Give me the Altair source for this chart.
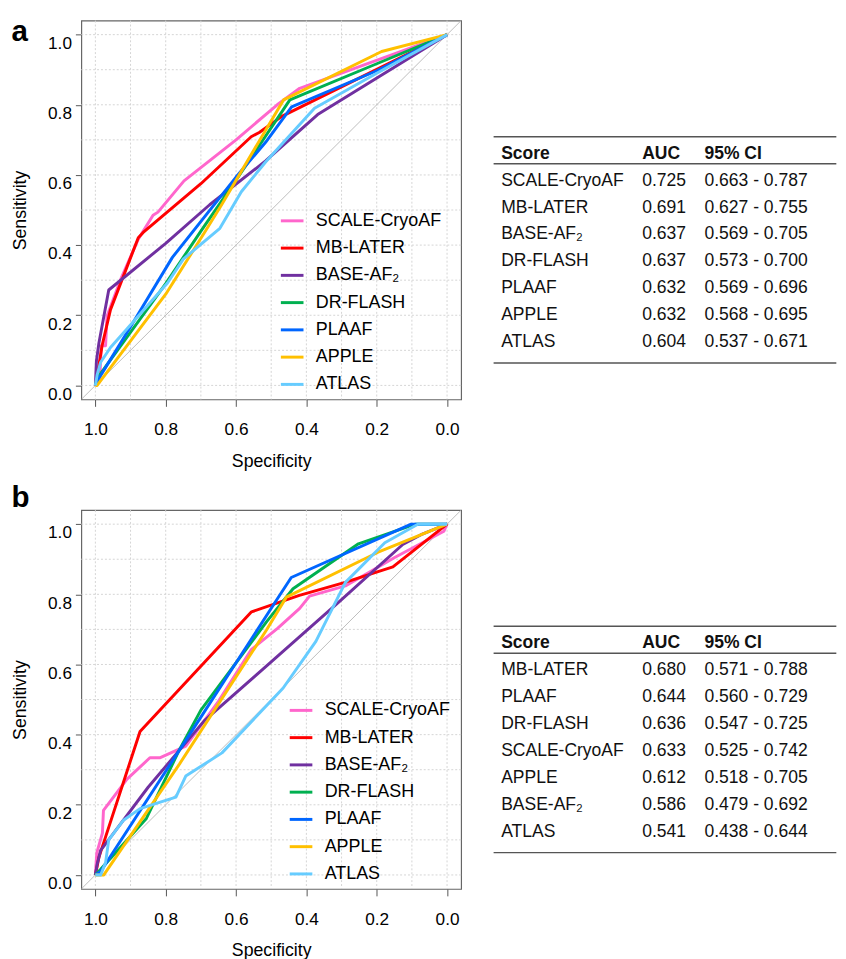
import altair as alt
import pandas as pd

FONT = "Liberation Sans"

SERIES = ["SCALE-CryoAF", "MB-LATER", "BASE-AF\u2082", "DR-FLASH", "PLAAF", "APPLE", "ATLAS"]
COLORS = ["#FF66CC", "#FF0000", "#7030A0", "#00B050", "#0066FF", "#FFC000", "#66CCFF"]

TICKS = [0.0, 0.2, 0.4, 0.6, 0.8, 1.0]
GRID = [0.0, 0.1, 0.2, 0.3, 0.4, 0.5, 0.6, 0.7, 0.8, 0.9, 1.0]
DIAG_SPEC = [1.04, -0.04]
DIAG_SENS = [-0.04, 1.04]

# ---------------- panel a ROC curves (specificity, sensitivity) ----------------
A_SCALE_SPEC = [1.0, 0.988, 0.983, 0.971, 0.967, 0.929, 0.878, 0.836, 0.822, 0.748, 0.60, 0.483, 0.419, 0.0]
A_SCALE_SENS = [0.0, 0.01, 0.113, 0.113, 0.197, 0.30, 0.417, 0.485, 0.494, 0.583, 0.70, 0.80, 0.847, 1.0]
A_MB_SPEC = [1.0, 0.997, 0.981, 0.957, 0.878, 0.864, 0.70, 0.557, 0.534, 0.50, 0.47, 0.0]
A_MB_SENS = [0.0, 0.014, 0.113, 0.216, 0.421, 0.436, 0.575, 0.709, 0.721, 0.745, 0.767, 1.0]
A_BASE_SPEC = [1.0, 0.997, 0.99, 0.962, 0.80, 0.675, 0.516, 0.368, 0.0]
A_BASE_SENS = [0.0, 0.07, 0.12, 0.272, 0.405, 0.515, 0.64, 0.772, 1.0]
A_DR_SPEC = [1.0, 0.995, 0.80, 0.70, 0.60, 0.447, 0.20, 0.0]
A_DR_SENS = [0.0, 0.02, 0.29, 0.44, 0.585, 0.814, 0.917, 1.0]
A_PLAAF_SPEC = [1.0, 0.99, 0.90, 0.781, 0.60, 0.516, 0.442, 0.20, 0.0]
A_PLAAF_SENS = [0.0, 0.02, 0.167, 0.365, 0.594, 0.693, 0.794, 0.897, 1.0]
A_APPLE_SPEC = [1.0, 0.995, 0.80, 0.687, 0.641, 0.465, 0.186, 0.0]
A_APPLE_SENS = [0.0, 0.0, 0.26, 0.44, 0.515, 0.814, 0.952, 1.0]
A_ATLAS_SPEC = [1.0, 0.995, 0.985, 0.957, 0.911, 0.795, 0.75, 0.646, 0.585, 0.516, 0.377, 0.20, 0.0]
A_ATLAS_SENS = [0.0, 0.03, 0.066, 0.108, 0.16, 0.292, 0.36, 0.448, 0.552, 0.637, 0.79, 0.89, 1.0]

# ---------------- panel b ROC curves ----------------
B_SCALE_SPEC = [1.0, 0.996, 0.98, 0.977, 0.91, 0.845, 0.817, 0.743, 0.65, 0.556, 0.482, 0.419, 0.391, 0.289, 0.149, 0.009, 0.0]
B_SCALE_SENS = [0.0, 0.063, 0.119, 0.184, 0.273, 0.334, 0.334, 0.367, 0.495, 0.643, 0.703, 0.76, 0.795, 0.824, 0.905, 0.98, 1.0]
B_MB_SPEC = [1.0, 0.99, 0.873, 0.556, 0.42, 0.29, 0.205, 0.154, 0.0]
B_MB_SENS = [0.0, 0.05, 0.409, 0.75, 0.797, 0.834, 0.862, 0.878, 1.0]
B_BASE_SPEC = [1.0, 0.995, 0.985, 0.948, 0.85, 0.69, 0.513, 0.308, 0.126, 0.074, 0.0]
B_BASE_SENS = [0.0, 0.03, 0.07, 0.119, 0.25, 0.44, 0.596, 0.778, 0.942, 0.97, 1.0]
B_DR_SPEC = [1.0, 0.985, 0.855, 0.761, 0.70, 0.513, 0.438, 0.252, 0.09, 0.0]
B_DR_SENS = [0.0, 0.016, 0.161, 0.357, 0.47, 0.722, 0.816, 0.944, 1.0, 1.0]
B_PLAAF_SPEC = [1.0, 0.985, 0.70, 0.482, 0.443, 0.102, 0.0]
B_PLAAF_SENS = [0.0, 0.01, 0.45, 0.788, 0.848, 1.0, 1.0]
B_APPLE_SPEC = [1.0, 0.976, 0.761, 0.513, 0.457, 0.196, 0.0]
B_APPLE_SENS = [0.0, 0.0, 0.316, 0.699, 0.792, 0.92, 1.0]
B_ATLAS_SPEC = [1.0, 0.985, 0.971, 0.962, 0.92, 0.873, 0.771, 0.743, 0.64, 0.482, 0.466, 0.373, 0.289, 0.177, 0.083, 0.0]
B_ATLAS_SENS = [0.0, 0.0, 0.035, 0.1, 0.156, 0.189, 0.222, 0.282, 0.348, 0.516, 0.533, 0.666, 0.834, 0.947, 1.0, 1.0]

# ---------------- tables ----------------
TABLE_HEADER = ["Score", "AUC", "95% CI"]
A_TAB_SCORE = ["SCALE-CryoAF", "MB-LATER", "BASE-AF\u2082", "DR-FLASH", "PLAAF", "APPLE", "ATLAS"]
A_TAB_AUC = [0.725, 0.691, 0.637, 0.637, 0.632, 0.632, 0.604]
A_TAB_LO = [0.663, 0.627, 0.569, 0.573, 0.569, 0.568, 0.537]
A_TAB_HI = [0.787, 0.755, 0.705, 0.700, 0.696, 0.695, 0.671]
B_TAB_SCORE = ["MB-LATER", "PLAAF", "DR-FLASH", "SCALE-CryoAF", "APPLE", "BASE-AF\u2082", "ATLAS"]
B_TAB_AUC = [0.680, 0.644, 0.636, 0.633, 0.612, 0.586, 0.541]
B_TAB_LO = [0.571, 0.560, 0.547, 0.525, 0.518, 0.479, 0.438]
B_TAB_HI = [0.788, 0.729, 0.725, 0.742, 0.705, 0.692, 0.644]

W, H = 386, 385
TW = 348.3


def roc_panel(curves, letter, letter_y, legend_x):
    recs = []
    for name, (spec, sens) in zip(SERIES, curves):
        for i, (s, t) in enumerate(zip(spec, sens)):
            recs.append({"series": name, "i": i, "spec": s, "sens": t})
    df = pd.DataFrame(recs)
    xs = alt.Scale(domain=[-0.04, 1.04], reverse=True, nice=False, zero=False)
    ys = alt.Scale(domain=[-0.04, 1.04], nice=False, zero=False)
    common = dict(values=TICKS, format=".1f", grid=False, domain=False,
                  tickColor="#555", tickWidth=1, labelFontSize=17.5, titleFontSize=18,
                  titleFontWeight="normal", labelFont=FONT, titleFont=FONT,
                  labelColor="#000", titleColor="#000", labelFlush=False, labelOverlap=False)
    xaxis = alt.Axis(title="Specificity", tickSize=7, labelPadding=14.7, titlePadding=14.5, **common)
    yaxis = alt.Axis(title="Sensitivity", tickSize=6, labelPadding=4, titlePadding=18,
                     labelBaseline="top", **common)

    vgrid = alt.Chart(pd.DataFrame({"spec": GRID})).mark_rule(
        color="#d4d4d4", strokeDash=[2, 2], strokeWidth=1
    ).encode(x=alt.X("spec:Q", scale=xs, axis=xaxis))
    hgrid = alt.Chart(pd.DataFrame({"sens": GRID})).mark_rule(
        color="#d4d4d4", strokeDash=[2, 2], strokeWidth=1
    ).encode(y=alt.Y("sens:Q", scale=ys, axis=yaxis))
    diag = alt.Chart(pd.DataFrame({"spec": DIAG_SPEC, "sens": DIAG_SENS})).mark_line(
        color="#bdbdbd", strokeWidth=1, clip=True
    ).encode(x=alt.X("spec:Q", scale=xs, axis=xaxis), y=alt.Y("sens:Q", scale=ys, axis=yaxis))
    lines = alt.Chart(df).mark_line(strokeWidth=3, clip=True, strokeJoin="round").encode(
        x=alt.X("spec:Q", scale=xs, axis=xaxis),
        y=alt.Y("sens:Q", scale=ys, axis=yaxis),
        color=alt.Color(
            "series:N",
            scale=alt.Scale(domain=SERIES, range=COLORS),
            legend=alt.Legend(
                orient="none", legendX=legend_x, legendY=190.5, title=None,
                labelFontSize=18.2, labelFont=FONT, labelColor="#000",
                symbolType="stroke", symbolStrokeWidth=3, symbolSize=529,
                labelOffset=11, rowPadding=5.7, padding=0,
            ),
        ),
        order="i:Q",
    )
    lab = alt.Chart(pd.DataFrame({"t": [letter]})).mark_text(
        font=FONT, fontSize=30, fontWeight="bold", align="left", baseline="alphabetic", color="#000"
    ).encode(text="t:N", x=alt.value(-71), y=alt.value(letter_y))
    return alt.layer(vgrid, hgrid, diag, lines, lab).properties(
        width=W, height=H, view=alt.ViewBackground(stroke="#666", strokeWidth=1.2)
    )


def table_panel(scores, aucs, los, his):
    body = pd.DataFrame({
        "row": list(range(1, len(scores) + 1)),
        "score": scores,
        "auc": [f"{v:.3f}" for v in aucs],
        "ci": [f"{a:.3f} - {b:.3f}" for a, b in zip(los, his)],
    })
    head = pd.DataFrame({"row": [0], "score": [TABLE_HEADER[0]], "auc": [TABLE_HEADER[1]], "ci": [TABLE_HEADER[2]]})
    ys = alt.Scale(domain=[0, 7], range=[135.3, 327])
    layers = []
    for field, xpos in [("score", 7.7), ("auc", 151), ("ci", 214.3)]:
        layers.append(alt.Chart(head).mark_text(
            font=FONT, fontSize=17.8, fontWeight="bold", align="left", baseline="middle", color="#111"
        ).encode(x=alt.value(xpos), y=alt.Y("row:Q", scale=ys, axis=None), text=f"{field}:N"))
        layers.append(alt.Chart(body).mark_text(
            font=FONT, fontSize=17.8, align="left", baseline="middle", color="#111"
        ).encode(x=alt.value(xpos), y=alt.Y("row:Q", scale=ys, axis=None), text=f"{field}:N"))
    for yv in [118, 145.5, 348]:
        layers.append(alt.Chart(head).mark_rule(color="#555", strokeWidth=1.4).encode(
            x=alt.value(0), x2=alt.value(TW), y=alt.value(yv)))
    return alt.layer(*layers).properties(
        width=TW, height=H, view=alt.ViewBackground(stroke="transparent")
    )


roc_a = roc_panel(
    [(A_SCALE_SPEC, A_SCALE_SENS), (A_MB_SPEC, A_MB_SENS), (A_BASE_SPEC, A_BASE_SENS),
     (A_DR_SPEC, A_DR_SENS), (A_PLAAF_SPEC, A_PLAAF_SENS), (A_APPLE_SPEC, A_APPLE_SENS),
     (A_ATLAS_SPEC, A_ATLAS_SENS)],
    "a", 20.5, 201.3,
)
roc_b = roc_panel(
    [(B_SCALE_SPEC, B_SCALE_SENS), (B_MB_SPEC, B_MB_SENS), (B_BASE_SPEC, B_BASE_SENS),
     (B_DR_SPEC, B_DR_SENS), (B_PLAAF_SPEC, B_PLAAF_SENS), (B_APPLE_SPEC, B_APPLE_SENS),
     (B_ATLAS_SPEC, B_ATLAS_SENS)],
    "b", -3.3, 210.3,
)
tab_a = table_panel(A_TAB_SCORE, A_TAB_AUC, A_TAB_LO, A_TAB_HI)
tab_b = table_panel(B_TAB_SCORE, B_TAB_AUC, B_TAB_LO, B_TAB_HI)

row_a = alt.hconcat(roc_a, tab_a, spacing=29).resolve_scale(x="independent", y="independent", color="independent")
row_b = alt.hconcat(roc_b, tab_b, spacing=29).resolve_scale(x="independent", y="independent", color="independent")

chart = alt.vconcat(row_a, row_b, spacing=11.5).resolve_scale(
    x="independent", y="independent", color="independent"
).properties(
    padding={"left": 2.5, "top": 0, "right": 0, "bottom": 0},
    background="white",
)

chart.save("out.html", embed_options={"renderer": "svg", "actions": False})
